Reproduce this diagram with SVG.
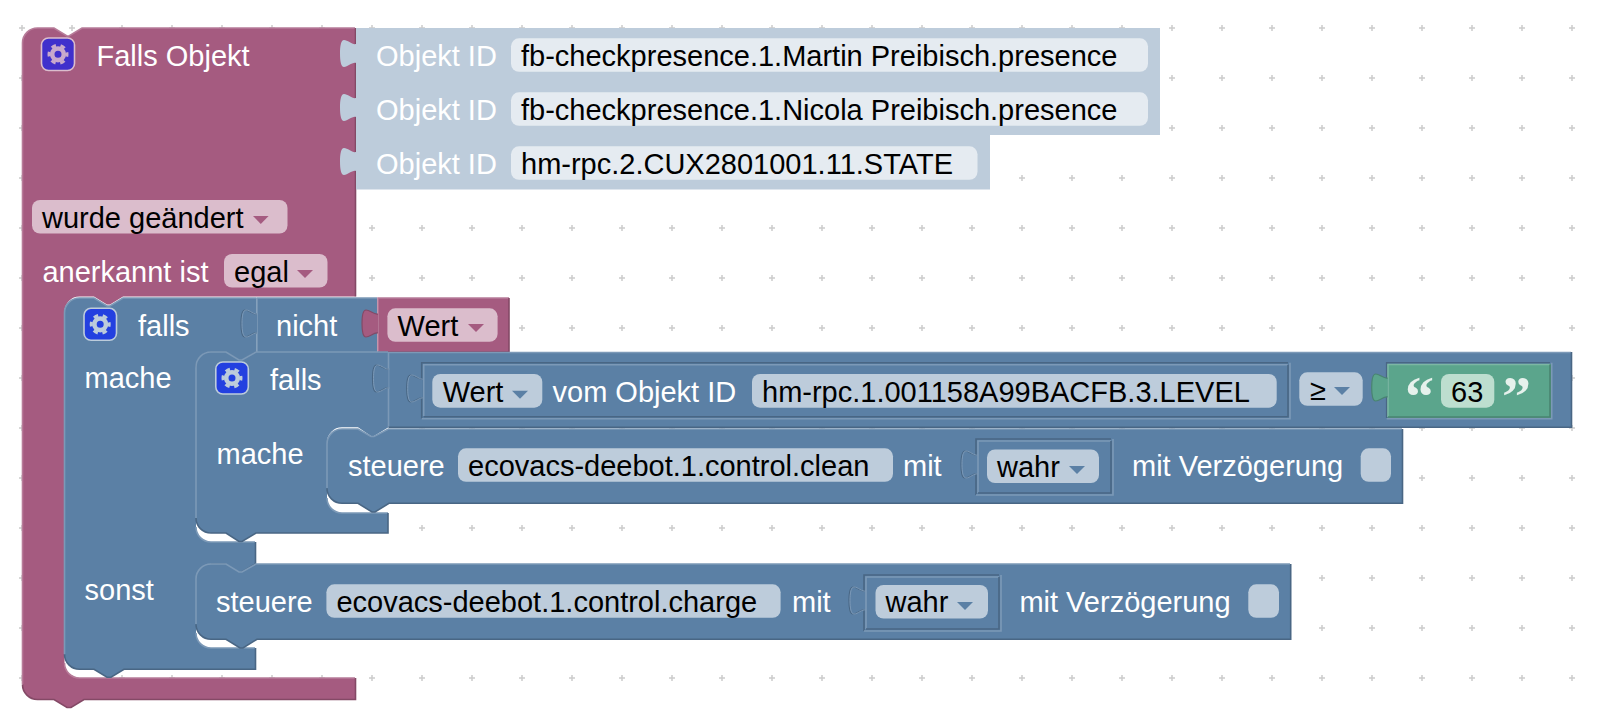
<svg xmlns="http://www.w3.org/2000/svg" width="1600" height="723" viewBox="0 0 1600 723">
<style>
text{font-family:"Liberation Sans",Arial,sans-serif;font-size:29px}
.w{fill:#fff}.k{fill:#000}
.ln{fill:none;stroke-width:1.6}
.b{fill:#5b80a5}.bl{stroke:#7c99b7}.bd{stroke:#496684}
.p{fill:#a55b80}.pl{stroke:#b77c99}.pd{stroke:#844966}
.g{fill:#5ba58c}.gl{stroke:#7cb7a3}.gd{stroke:#498470}
.s{fill:#bdccdb}
.ff{fill:#bdccdb}.fp{fill:#dbbdcc}.fs{fill:#e5ebf1}.fg{fill:#bddecf}
.ab{fill:#5b80a5}.ap{fill:#a55b80}
.q{font-family:"Liberation Serif",serif;font-weight:bold;font-size:58px;fill:#e6f1ec}
</style>
<defs>
<pattern id="grid" patternUnits="userSpaceOnUse" x="19" y="25" width="50" height="50">
<path d="M3,0V6M0,3H6" stroke="#ccc" stroke-width="1.5" fill="none"/>
</pattern>
<g id="gear">
<circle r="5.8" fill="none" stroke="currentColor" stroke-width="4.6"/>
<circle r="9" fill="none" stroke="currentColor" stroke-width="3" stroke-dasharray="4.71 4.71" stroke-dashoffset="2.35"/>
</g>
<path id="tabp" d="m0,2c-4,1 -8,-4 -12,-4c-3,0 -4,6 -4,13.5c0,7.5 1,13.5 4,13.5c4,0 8,-5 12,-4"/>
</defs>
<rect id="background" width="1600" height="723" fill="#fff"/>
<rect id="dots" width="1600" height="723" fill="url(#grid)"/>

<g id="connectors"></g>

<g id="falls-objekt">
<path class="p" d="M22.5,43a15,15 0 0 1 15,-15H54l13,8h2l13,-8H355.5V296.5H123l-13,8h-3l-13,-8H79.5a15,15 0 0 0 -15,15V663a15,15 0 0 0 15,15H355.5V699.5H84l-13,8h-4l-13,-8H37.5a15,15 0 0 1 -15,-15Z"/>
<path class="ln pl" d="M22.5,684V43a15,15 0 0 1 15,-15H54l13,8h2l13,-8H355M64.5,663a15,15 0 0 0 15,15H355"/>
<path class="ln pd" d="M355.5,28V296.5M355.5,678V699.5H84l-13,8h-4l-13,-8H37.5a15,15 0 0 1 -15,-15"/>
<rect x="41.5" y="38" width="33" height="32.5" rx="7" fill="#4030cc" stroke="#dbbdcc" stroke-width="1.6"/>
<use href="#gear" transform="translate(58,54.3)" color="#c8a9cc"/>
<text x="96.5" y="66" class="w">Falls Objekt</text>
<rect x="32" y="200" width="255.5" height="33.5" rx="8" class="fp"/>
<text x="42" y="227.5" class="k">wurde geändert</text>
<polygon points="253,216 268.6,216 260.8,224" class="ap"/>
<text x="42.4" y="282" class="w">anerkannt ist</text>
<rect x="224" y="254" width="103.5" height="33.5" rx="8" class="fp"/>
<text x="234" y="282" class="k">egal</text>
<polygon points="297,270 313,270 305,278" class="ap"/>
</g>

<g id="objekt-1">
<path class="s" d="M356,28H1160V82H356Z"/><use href="#tabp" x="356" y="42" class="s"/>
<text x="376" y="66" class="w">Objekt ID</text>
<rect x="511" y="38.3" width="637" height="33.5" rx="8" class="fs"/>
<text x="521" y="66" class="k">fb-checkpresence.1.Martin Preibisch.presence</text>
</g>
<g id="objekt-2">
<path class="s" d="M356,82H1160V135H356Z"/><use href="#tabp" x="356" y="96" class="s"/>
<text x="376" y="120" class="w">Objekt ID</text>
<rect x="511" y="92.3" width="637" height="33.5" rx="8" class="fs"/>
<text x="521" y="120" class="k">fb-checkpresence.1.Nicola Preibisch.presence</text>
</g>
<g id="objekt-3">
<path class="s" d="M356,135H990V189.5H356Z"/><use href="#tabp" x="356" y="150" class="s"/>
<text x="376" y="174" class="w">Objekt ID</text>
<rect x="511" y="146.3" width="466.5" height="33.5" rx="8" class="fs"/>
<text x="521" y="174" class="k">hm-rpc.2.CUX2801001.11.STATE</text>
</g>

<g id="falls-outer">
<path class="b" d="M64.5,313a15,15 0 0 1 15,-15H94l13,8h3l13,-8H256.5V352L242,360.5h-3l-13,-8H211a15,15 0 0 0 -15,15V527a15,15 0 0 0 15,15H255.5V564L241,572.5h-3L225,564H211a15,15 0 0 0 -15,15V633a15,15 0 0 0 15,15H255.5V669.3H124l-13,8h-4l-13,-8H79.5a15,15 0 0 1 -15,-15Z"/>
<path class="ln bl" d="M64.5,654V313a15,15 0 0 1 15,-15H94l13,8h3l13,-8H256M196,527a15,15 0 0 0 15,15H255M196,633a15,15 0 0 0 15,15H255"/>
<path class="ln bd" d="M255.5,542V564L241,572.5h-3L225,564H211M255.5,648V669.3H124l-13,8h-4l-13,-8H79.5a15,15 0 0 1 -15,-15M256.5,352L242,360.5h-3l-13,-8H211a15,15 0 0 0 -15,15"/>
<rect x="84" y="308.3" width="32.5" height="32" rx="7" fill="#2340e0" stroke="#bdccdb" stroke-width="1.6"/>
<use href="#gear" transform="translate(100.2,324.3)" color="#bdccdb"/>
<text x="138" y="336" class="w">falls</text>
<text x="84.5" y="388" class="w">mache</text>
<text x="84.5" y="600" class="w">sonst</text>
</g>

<g id="nicht">
<rect x="257" y="298" width="120" height="54" class="b"/>
<path class="ln bl" d="M257,352V298H377"/>
<use href="#tabp" x="257" y="312" class="b" stroke="#496684" stroke-width="1.2"/>
<use href="#tabp" x="258" y="312" fill="none" stroke="#7c99b7" stroke-width="1"/>
<text x="276" y="336" class="w">nicht</text>
</g>
<g id="wert-1">
<rect x="378" y="298" width="131" height="54" class="p"/>
<path class="ln pl" d="M378,352V298H509"/>
<path class="ln pd" d="M509,298V352H378"/>
<use href="#tabp" x="378" y="312" class="p" stroke="#844966" stroke-width="1.2"/>
<rect x="387.4" y="308.3" width="110.2" height="33.5" rx="8" class="fp"/>
<text x="397.6" y="336" class="k">Wert</text>
<polygon points="468,324 484,324 476,332" class="ap"/>
</g>

<g id="falls-inner">
<path class="b" d="M196,367a15,15 0 0 1 15,-15H226l13,8h3l14,-8H388.5V427.3L374,436h-3l-13,-8.7H342a15,15 0 0 0 -15,15V498a15,15 0 0 0 15,15H388V533H256l-14,8.5h-3L226,533H211a15,15 0 0 1 -15,-15Z"/>
<path class="ln bl" d="M196,518V367a15,15 0 0 1 15,-15H226l13,8h3l14,-8H388M327,498a15,15 0 0 0 15,15H388"/>
<path class="ln bd" d="M388,513V533H256l-14,8.5h-3L226,533H211a15,15 0 0 1 -15,-15"/>
<rect x="215.8" y="362" width="32.5" height="32" rx="7" fill="#2340e0" stroke="#bdccdb" stroke-width="1.6"/>
<use href="#gear" transform="translate(232,378)" color="#bdccdb"/>
<text x="270" y="390" class="w">falls</text>
<text x="216.5" y="464" class="w">mache</text>
</g>

<g id="vergleich">
<rect x="388.5" y="352" width="1183" height="75.3" class="b"/>
<path class="ln bl" d="M388.5,427V352.5H1571"/>
<path class="ln bd" d="M1571.5,352V427.3H388.5"/>
<use href="#tabp" x="388.5" y="367" class="b" stroke="#496684" stroke-width="1.2"/>
<use href="#tabp" x="389.5" y="367" fill="none" stroke="#7c99b7" stroke-width="1"/>
<rect x="1299.3" y="372.3" width="63.4" height="33.5" rx="8" class="ff"/>
<text x="1310" y="399.5" class="k">≥</text>
<polygon points="1334,387 1350,387 1342,395" class="ab"/>
</g>

<g id="wert-objekt">
<path class="ln bd" d="M421.7,418.7V362.7H1288"/>
<path class="ln bl" d="M1290,362.7V418.7H421.7"/>
<path class="ln bl" d="M423.7,416V364.7H1288"/>
<path class="ln bd" d="M1288,364.7V416.7H423.7"/>
<use href="#tabp" x="422.7" y="377" class="b" stroke="#496684" stroke-width="1.2"/>
<use href="#tabp" x="423.7" y="377" fill="none" stroke="#7c99b7" stroke-width="1"/>
<rect x="432.3" y="374" width="110" height="33.7" rx="8" class="ff"/>
<text x="442.7" y="402" class="k">Wert</text>
<polygon points="512,390.7 528,390.7 520,398.7" class="ab"/>
<text x="552.5" y="402" class="w">vom Objekt ID</text>
<rect x="752" y="374" width="524.7" height="33.7" rx="8" class="ff"/>
<text x="762" y="402" class="k">hm-rpc.1.001158A99BACFB.3.LEVEL</text>
</g>

<g id="text-63">
<path class="ln bd" d="M1386.7,418V362.7H1550"/>
<path class="ln bl" d="M1551.7,362.7V418.7H1386.7"/>
<rect x="1387.7" y="364" width="163" height="53.7" class="g"/>
<path class="ln gl" d="M1388,417V364.5H1550"/>
<path class="ln gd" d="M1550,364.5V417H1388"/>
<use href="#tabp" x="1387.7" y="376" class="g" stroke="#498470" stroke-width="1.2"/>
<text x="1405" y="416" class="q">“</text>
<rect x="1441" y="374" width="53.3" height="33.7" rx="8" class="fg"/>
<text x="1451" y="401.5" class="k">63</text>
<text x="1502" y="416" class="q">”</text>
</g>

<g id="steuere-1">
<path class="b" d="M327,444a15,15 0 0 1 15,-15H358l13,7.5h3l14.5,-7.5H1402.5V503.3H389l-14,8.7h-3l-14,-8.7H342a15,15 0 0 1 -15,-15Z"/>
<path class="ln bl" d="M327,488V444a15,15 0 0 1 15,-15H358l13,7.5h3l14.5,-7.5H1402"/>
<path class="ln bd" d="M1402.5,429V503.3H389l-14,8.7h-3l-14,-8.7H342a15,15 0 0 1 -15,-15"/>
<text x="348" y="476" class="w">steuere</text>
<rect x="458" y="448.3" width="435" height="33.5" rx="8" class="ff"/>
<text x="468" y="476" class="k">ecovacs-deebot.1.control.clean</text>
<text x="903" y="476" class="w">mit</text>
<path class="ln bd" d="M976,495V439H1111"/>
<path class="ln bl" d="M1113,439V495H976"/>
<path class="ln bl" d="M978,493V441H1111"/>
<path class="ln bd" d="M1111,441V493H978"/>
<use href="#tabp" x="977" y="453" class="b" stroke="#496684" stroke-width="1.2"/>
<use href="#tabp" x="978" y="453" fill="none" stroke="#7c99b7" stroke-width="1"/>
<rect x="987" y="449.5" width="112" height="33.5" rx="8" class="ff"/>
<text x="997" y="477" class="k">wahr</text>
<polygon points="1069,466 1085,466 1077,474" class="ab"/>
<text x="1132" y="476" class="w">mit Verzögerung</text>
<rect x="1360.7" y="448.3" width="30.3" height="33.5" rx="8" class="ff"/>
</g>

<g id="steuere-2">
<path class="b" d="M196,579a15,15 0 0 1 15,-15H226l13,8h3l14,-8H1290.7V639.3H257l-14,8.7h-3l-14,-8.7H211a15,15 0 0 1 -15,-15Z"/>
<path class="ln bl" d="M196,624V579a15,15 0 0 1 15,-15H226l13,8h3l14,-8H1290"/>
<path class="ln bd" d="M1290.7,564V639.3H257l-14,8.7h-3l-14,-8.7H211a15,15 0 0 1 -15,-15"/>
<text x="216" y="612" class="w">steuere</text>
<rect x="326.4" y="584.3" width="454.2" height="33.5" rx="8" class="ff"/>
<text x="336.4" y="612" class="k">ecovacs-deebot.1.control.charge</text>
<text x="792" y="612" class="w">mit</text>
<path class="ln bd" d="M864,631V575H999"/>
<path class="ln bl" d="M1001,575V631H864"/>
<path class="ln bl" d="M866,629V577H999"/>
<path class="ln bd" d="M999,577V629H866"/>
<use href="#tabp" x="865" y="589" class="b" stroke="#496684" stroke-width="1.2"/>
<use href="#tabp" x="866" y="589" fill="none" stroke="#7c99b7" stroke-width="1"/>
<rect x="875.5" y="585" width="112.5" height="33.5" rx="8" class="ff"/>
<text x="885.5" y="612" class="k">wahr</text>
<polygon points="957,602 973,602 965,610" class="ab"/>
<text x="1019.4" y="612" class="w">mit Verzögerung</text>
<rect x="1248.3" y="584.3" width="30.7" height="33.5" rx="8" class="ff"/>
</g>
</svg>
